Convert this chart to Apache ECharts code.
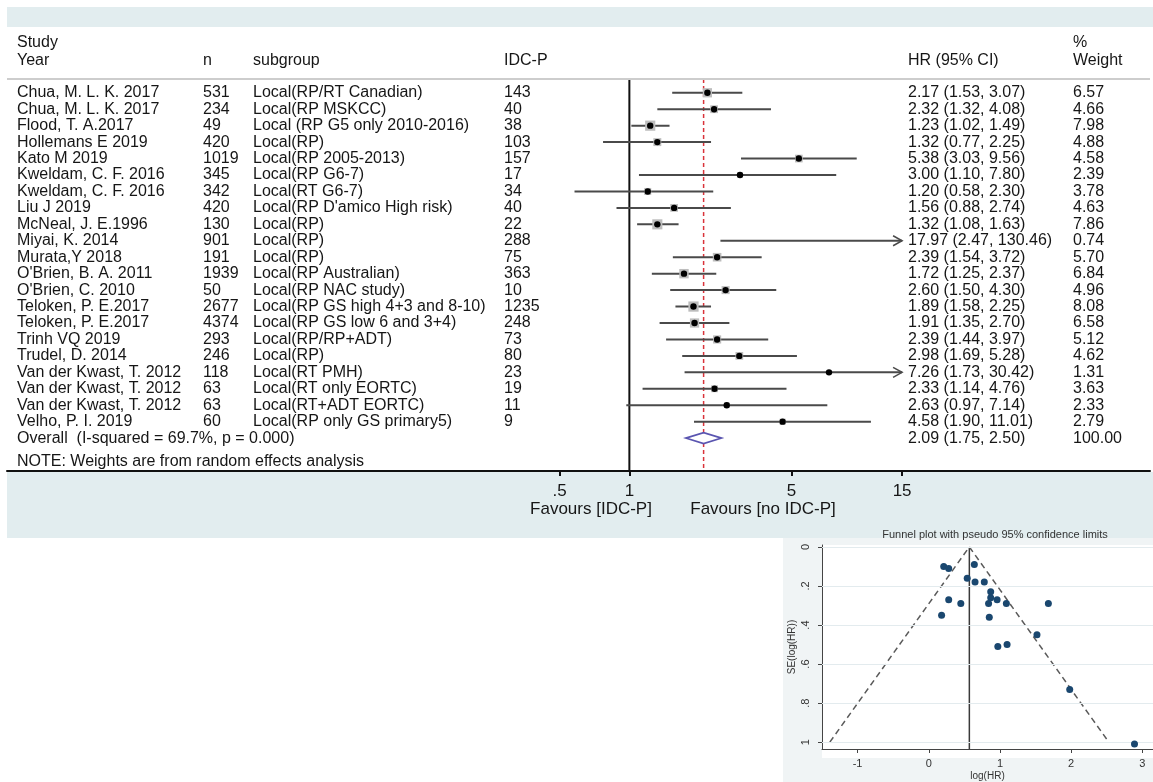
<!DOCTYPE html>
<html>
<head>
<meta charset="utf-8">
<script src="https://cdn.jsdelivr.net/npm/echarts@6/dist/echarts.min.js"></script>
<style>
  html, body { margin: 0; padding: 0; background: #fff; }
  #chart { width: 1153px; height: 782px; }
</style>
</head>
<body>
<div id="chart"></div>
<script>
// forest plot data
const studies = ["Chua, M. L. K. 2017", "Chua, M. L. K. 2017", "Flood, T. A.2017", "Hollemans E 2019", "Kato M 2019",
  "Kweldam, C. F. 2016", "Kweldam, C. F. 2016", "Liu J 2019", "McNeal, J. E.1996", "Miyai, K. 2014", "Murata,Y 2018",
  "O'Brien, B. A. 2011", "O'Brien, C. 2010", "Teloken, P. E.2017", "Teloken, P. E.2017", "Trinh VQ 2019", "Trudel, D. 2014",
  "Van der Kwast, T. 2012", "Van der Kwast, T. 2012", "Van der Kwast, T. 2012", "Velho, P. I. 2019"];
const sampleN = [531, 234, 49, 420, 1019, 345, 342, 420, 130, 901, 191, 1939, 50, 2677, 4374, 293, 246, 118, 63, 63, 60];
const subgroups = ["Local(RP/RT Canadian)", "Local(RP MSKCC)", "Local (RP G5 only 2010-2016)", "Local(RP)", "Local(RP 2005-2013)",
  "Local(RP G6-7)", "Local(RT G6-7)", "Local(RP D'amico High risk)", "Local(RP)", "Local(RP)", "Local(RP)",
  "Local(RP Australian)", "Local(RP NAC study)", "Local(RP GS high 4+3 and 8-10)", "Local(RP GS low 6 and 3+4)",
  "Local(RP/RP+ADT)", "Local(RP)", "Local(RT PMH)", "Local(RT only EORTC)", "Local(RT+ADT EORTC)", "Local(RP only GS primary5)"];
const idcp = [143, 40, 38, 103, 157, 17, 34, 40, 22, 288, 75, 363, 10, 1235, 248, 73, 80, 23, 19, 11, 9];
const hr = [2.17, 2.32, 1.23, 1.32, 5.38, 3.00, 1.20, 1.56, 1.32, 17.97, 2.39, 1.72, 2.60, 1.89, 1.91, 2.39, 2.98, 7.26, 2.33, 2.63, 4.58];
const ciLow = [1.53, 1.32, 1.02, 0.77, 3.03, 1.10, 0.58, 0.88, 1.08, 2.47, 1.54, 1.25, 1.50, 1.58, 1.35, 1.44, 1.69, 1.73, 1.14, 0.97, 1.90];
const ciHigh = [3.07, 4.08, 1.49, 2.25, 9.56, 7.80, 2.30, 2.74, 1.63, 130.46, 3.72, 2.37, 4.30, 2.25, 2.70, 3.97, 5.28, 30.42, 4.76, 7.14, 11.01];
const weights = [6.57, 4.66, 7.98, 4.88, 4.58, 2.39, 3.78, 4.63, 7.86, 0.74, 5.70, 6.84, 4.96, 8.08, 6.58, 5.12, 4.62, 1.31, 3.63, 2.33, 2.79];
const overallHR = [2.09, 1.75, 2.50];
const overallLabel = "Overall  (I-squared = 69.7%, p = 0.000)";
const forestTicks = [0.5, 1, 5, 15];

// funnel plot data
const funnelLogHR = [0.78, 0.84, 0.21, 0.28, 1.68, 1.10, 0.18, 0.45, 0.28, 2.89, 0.87, 0.54, 0.96, 0.64, 0.65, 0.87, 1.09, 1.98, 0.85, 0.97, 1.52];
const funnelSE = [0.18, 0.29, 0.10, 0.27, 0.29, 0.50, 0.35, 0.29, 0.11, 1.01, 0.23, 0.16, 0.27, 0.09, 0.18, 0.26, 0.29, 0.73, 0.36, 0.51, 0.45];
const funnelLimits = [[-1.39, 1], [0.57, 0], [2.53, 1]];
const funnelCenter = 0.57;
const funnelXTicks = [-1, 0, 1, 2, 3];
const funnelYTicks = [0, 0.2, 0.4, 0.6, 0.8, 1];

const FONT = '"Liberation Sans", Arial, sans-serif';
const TXT = "#161616";
const BAND = "#e2edef";
const ARROW_MAX = 15;

let chart = echarts.init(document.getElementById("chart"));

let forestRows = studies.map((s, i) => [i, hr[i], ciLow[i], ciHigh[i], weights[i]]);
let funnelPoints = funnelLogHR.map((v, i) => [v, funnelSE[i]]);

function shortNum(v) {
  let s = String(v);
  return s.replace(/^(-?)0\./, "$1.");
}

let option = {
  backgroundColor: "#fff",
  animation: false,
  title: {
    text: "Funnel plot with pseudo 95% confidence limits",
    left: 990,
    top: 524,
    textAlign: "center",
    textStyle: { fontFamily: FONT, fontSize: 11, fontWeight: "normal", color: "#333" }
  },
  grid: [
    { left: 7, top: 27, width: 1143, height: 444 },
    { left: 822, top: 545, width: 344, height: 213 }
  ],
  xAxis: [
    {
      gridIndex: 0,
      type: "log",
      min: 0.00207,
      max: 175.9,
      axisLine: { onZero: false, lineStyle: { color: "#111", width: 2 } },
      axisTick: { customValues: forestTicks, length: 5, lineStyle: { color: "#111", width: 2 } },
      axisLabel: {
        customValues: forestTicks,
        margin: 12,
        fontFamily: FONT,
        fontSize: 17,
        color: TXT,
        formatter: v => shortNum(v)
      },
      splitLine: { show: false }
    },
    {
      gridIndex: 1,
      type: "value",
      min: -1.5,
      max: 3.15,
      name: "log(HR)",
      nameLocation: "middle",
      nameGap: 22,
      nameTextStyle: { fontFamily: FONT, fontSize: 10, color: "#333" },
      axisLine: { onZero: false, lineStyle: { color: "#444", width: 1 } },
      axisTick: { customValues: funnelXTicks, length: 4, lineStyle: { color: "#444" } },
      axisLabel: { customValues: funnelXTicks, margin: 9, fontFamily: FONT, fontSize: 11, color: "#333" },
      splitLine: { show: false }
    }
  ],
  yAxis: [
    { gridIndex: 0, type: "value", inverse: true, min: -4, max: 23, show: false },
    {
      gridIndex: 1,
      type: "value",
      inverse: true,
      min: -0.01,
      max: 1.035,
      name: "SE(log(HR))",
      nameLocation: "middle",
      nameGap: 25,
      nameTextStyle: { fontFamily: FONT, fontSize: 10, color: "#333" },
      axisLine: { show: true, onZero: false, lineStyle: { color: "#444", width: 1 } },
      axisTick: { show: true, customValues: funnelYTicks, length: 4, lineStyle: { color: "#444" } },
      axisLabel: {
        customValues: funnelYTicks,
        rotate: 90,
        margin: 11,
        fontFamily: FONT,
        fontSize: 11,
        color: "#333",
        formatter: v => shortNum(v)
      },
      splitLine: { show: false }
    }
  ],
  series: [
    {
      name: "studies",
      type: "custom",
      xAxisIndex: 0,
      yAxisIndex: 0,
      z: 5,
      data: forestRows,
      encode: { x: 1, y: 0 },
      renderItem: function (params, api) {
        let row = api.value(0);
        let hrVal = api.value(1);
        let c = api.coord([hrVal, row]);
        let y = c[1];
        let lo = api.coord([api.value(2), row]);
        let hiVal = api.value(3);
        let hi = api.coord([Math.min(hiVal, ARROW_MAX), row]);
        let box = 3.6 * Math.sqrt(api.value(4));
        let children = [
          { type: "line", shape: { x1: lo[0], y1: y, x2: hi[0], y2: y }, style: { stroke: "#4a4a4a", lineWidth: 2 } }
        ];
        if (hrVal <= ARROW_MAX) {
          children.push({ type: "rect", shape: { x: c[0] - box / 2, y: y - box / 2, width: box, height: box }, style: { fill: "#bdbdbd" } });
          children.push({ type: "circle", shape: { cx: c[0], cy: y, r: 3.2 }, style: { fill: "#000" } });
        }
        if (hiVal > ARROW_MAX) {
          children.push({
            type: "polyline",
            shape: { points: [[hi[0] - 9, y - 5], [hi[0], y], [hi[0] - 9, y + 5]] },
            style: { stroke: "#4a4a4a", lineWidth: 1.5, fill: null }
          });
        }
        return { type: "group", children: children };
      },
      markLine: {
        silent: true,
        symbol: "none",
        label: { show: false },
        lineStyle: { color: "#cdcdcd", width: 2, type: "solid" },
        data: [{ yAxis: -0.84 }]
      }
    },
    {
      name: "no effect",
      type: "line",
      xAxisIndex: 0,
      yAxisIndex: 0,
      symbol: "none",
      z: 3,
      lineStyle: { color: "#111", width: 2 },
      data: [[1, -0.84], [1, 23]]
    },
    {
      name: "overall effect",
      type: "line",
      xAxisIndex: 0,
      yAxisIndex: 0,
      symbol: "none",
      z: 4,
      lineStyle: { color: "#d9333a", width: 1.5, type: [4, 3] },
      data: [[overallHR[0], -0.84], [overallHR[0], 23]]
    },
    {
      name: "overall",
      type: "custom",
      xAxisIndex: 0,
      yAxisIndex: 0,
      z: 6,
      data: [[21, overallHR[0], overallHR[1], overallHR[2]]],
      encode: { x: 1, y: 0 },
      renderItem: function (params, api) {
        let row = api.value(0);
        let c = api.coord([api.value(1), row]);
        let l = api.coord([api.value(2), row]);
        let r = api.coord([api.value(3), row]);
        return {
          type: "polygon",
          shape: { points: [[l[0], c[1]], [c[0], c[1] - 5.5], [r[0], c[1]], [c[0], c[1] + 5.5]] },
          style: { stroke: "#5a55b0", lineWidth: 1.6, fill: "#fff" }
        };
      }
    },
    {
      name: "center",
      type: "line",
      xAxisIndex: 1,
      yAxisIndex: 1,
      symbol: "none",
      z: 3,
      lineStyle: { color: "#3a3a3a", width: 1.5 },
      data: [[funnelCenter, 0], [funnelCenter, 1.035]],
      markLine: {
        silent: true,
        symbol: "none",
        label: { show: false },
        lineStyle: { color: "#e3ebee", width: 1, type: "solid" },
        data: funnelYTicks.map(v => ({ yAxis: v }))
      }
    },
    {
      name: "limits",
      type: "line",
      xAxisIndex: 1,
      yAxisIndex: 1,
      symbol: "none",
      z: 3,
      lineStyle: { color: "#5a5a5a", width: 1.5, type: [6, 4] },
      data: funnelLimits
    },
    {
      name: "funnel",
      type: "scatter",
      xAxisIndex: 1,
      yAxisIndex: 1,
      symbolSize: 7,
      z: 5,
      itemStyle: { color: "#1a476f", opacity: 1 },
      data: funnelPoints
    }
  ]
};
chart.setOption(option);

// table text, placed on the forest rows
function rowY(i) {
  return chart.convertToPixel({ yAxisIndex: 0 }, i);
}
function txt(s, x, row) {
  return {
    type: "text",
    z: 10,
    style: { text: String(s), x: x, y: rowY(row), fill: TXT, font: "16px " + FONT, verticalAlign: "middle", align: "left" }
  };
}
const col = { study: 17, n: 203, sub: 253, idcp: 504, ci: 908, w: 1073 };
let texts = [
  txt("Study", col.study, -3.03), txt("Year", col.study, -1.93),
  txt("n", col.n, -1.93), txt("subgroup", col.sub, -1.93), txt("IDC-P", col.idcp, -1.93),
  txt("HR (95% CI)", col.ci, -1.93), txt("%", col.w, -3.03), txt("Weight", col.w, -1.93)
];
studies.forEach((s, i) => {
  texts.push(txt(s, col.study, i));
  texts.push(txt(sampleN[i], col.n, i));
  texts.push(txt(subgroups[i], col.sub, i));
  texts.push(txt(idcp[i], col.idcp, i));
  texts.push(txt(hr[i].toFixed(2) + " (" + ciLow[i].toFixed(2) + ", " + ciHigh[i].toFixed(2) + ")", col.ci, i));
  texts.push(txt(weights[i].toFixed(2), col.w, i));
});
texts.push(txt(overallLabel, col.study, 21));
texts.push(txt(overallHR[0].toFixed(2) + " (" + overallHR[1].toFixed(2) + ", " + overallHR[2].toFixed(2) + ")", col.ci, 21));
texts.push(txt("100.00", col.w, 21));
texts.push(txt("NOTE: Weights are from random effects analysis", col.study, 22.45));

let favours = [
  { type: "text", z: 10, style: { text: "Favours [IDC-P]", x: 591, y: 509, fill: TXT, font: "17px " + FONT, align: "center", verticalAlign: "middle" } },
  { type: "text", z: 10, style: { text: "Favours [no IDC-P]", x: 763, y: 509, fill: TXT, font: "17px " + FONT, align: "center", verticalAlign: "middle" } }
];

let backgrounds = [
  { type: "rect", z: -1, shape: { x: 7, y: 7, width: 1146, height: 20 }, style: { fill: BAND } },
  { type: "rect", z: -1, shape: { x: 7, y: 472, width: 1146, height: 66 }, style: { fill: BAND } },
  { type: "rect", z: -1, shape: { x: 783, y: 538, width: 370, height: 244 }, style: { fill: "#f0f4f5" } },
  { type: "rect", z: -1, shape: { x: 822, y: 545, width: 331, height: 213 }, style: { fill: "#fff" } }
];

chart.setOption({ graphic: backgrounds.concat(texts, favours) });
</script>
</body>
</html>
